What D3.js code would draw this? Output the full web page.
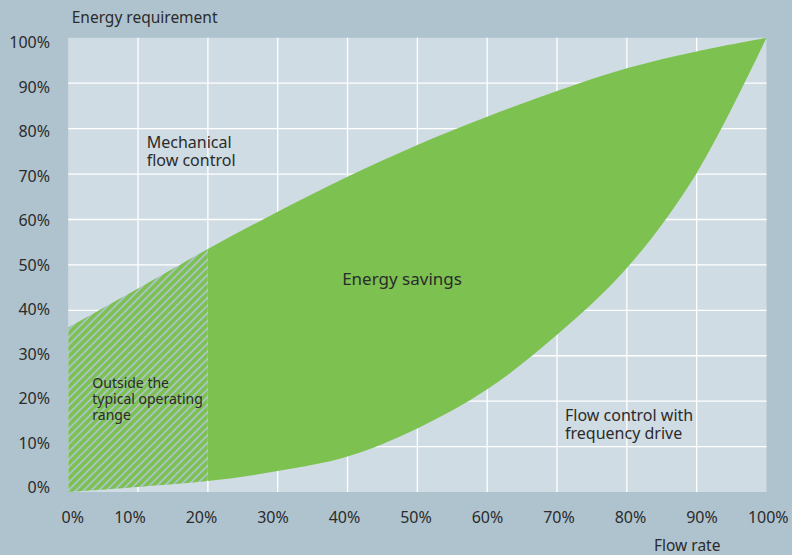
<!DOCTYPE html>
<html>
<head>
<meta charset="utf-8">
<script src="https://cdn.jsdelivr.net/npm/d3@7"></script>
<style>
  html, body { margin: 0; padding: 0; background: #afc3ce; }
  svg { display: block; font-family: "Noto Sans", sans-serif; }
  text { fill: #2b2b2b; }
</style>
</head>
<body>
<div id="chart"></div>
<script>
// flow rate (%) vs energy requirement (%)
const flowMech = [0, 10, 20, 30, 40, 50, 60, 70, 80, 90, 100];
const energyMech = [36.2, 44.8, 53.5, 61.7, 69.4, 76.4, 82.6, 88.3, 93.3, 97.0, 100];

const flowDrive = [0, 10, 20, 30, 40, 50, 60, 70, 80, 90, 100];
const energyDrive = [0, 1.1, 2.4, 4.6, 7.8, 14, 22.6, 34.6, 49.3, 70.2, 100];

const hatchEnd = 20; // outside the typical operating range
const ticks = [0, 10, 20, 30, 40, 50, 60, 70, 80, 90, 100];

const W = 792, H = 555;
const margin = { top: 37.8, right: 25.5, bottom: 63, left: 68.2 };

const svg = d3.select("#chart").append("svg")
  .attr("width", W)
  .attr("height", H);

const x = d3.scaleLinear().domain([0, 100]).range([margin.left, W - margin.right]);
const y = d3.scaleLinear().domain([0, 100]).range([H - margin.bottom, margin.top]);

// tick labels sit on their own slightly tighter spacing
const xLab = d3.scaleLinear().domain([10, 90]).range([130, 702]);
const yLab = d3.scaleLinear().domain([0, 100]).range([493.3, 48.3]);

// plot background
svg.append("rect")
  .attr("x", x(0)).attr("y", y(100))
  .attr("width", x(100) - x(0)).attr("height", y(0) - y(100))
  .attr("fill", "#d0dce3");

// grid
const inner = ticks.filter(d => d > 0 && d < 100);
svg.append("g").selectAll("line.v").data(inner).join("line")
  .attr("x1", d => x(d)).attr("x2", d => x(d))
  .attr("y1", y(100)).attr("y2", y(0))
  .attr("stroke", "#fff").attr("stroke-width", 1.3);
svg.append("g").selectAll("line.h").data(inner).join("line")
  .attr("y1", d => y(d)).attr("y2", d => y(d))
  .attr("x1", x(0)).attr("x2", x(100))
  .attr("stroke", "#fff").attr("stroke-width", 1.3);

// hatch pattern
const defs = svg.append("defs");
const pat = defs.append("pattern")
  .attr("id", "hatch")
  .attr("patternUnits", "userSpaceOnUse")
  .attr("width", 5.4).attr("height", 10)
  .attr("patternTransform", "rotate(45)");
pat.append("rect").attr("width", 5.4).attr("height", 10).attr("fill", "#7dc250");
pat.append("rect").attr("width", 1.7).attr("height", 10).attr("fill", "#adc2ce");

defs.append("clipPath").attr("id", "clipHatch")
  .append("rect")
  .attr("x", x(0)).attr("y", 0)
  .attr("width", x(hatchEnd) - x(0)).attr("height", H);
defs.append("clipPath").attr("id", "clipSolid")
  .append("rect")
  .attr("x", x(hatchEnd)).attr("y", 0)
  .attr("width", x(100) - x(hatchEnd)).attr("height", H);

// band between the two curves
const line = d3.line()
  .x(d => x(d[0])).y(d => y(d[1]))
  .curve(d3.curveCatmullRom.alpha(0.5));

const upperPts = flowMech.map((f, i) => [f, energyMech[i]]);
const lowerPts = flowDrive.map((f, i) => [f, energyDrive[i]]);

const upperPath = line(upperPts);
const lowerPath = line(lowerPts.slice().reverse());
const bandPath = upperPath + "L" + lowerPath.slice(1) + "Z";

svg.append("path")
  .attr("d", bandPath)
  .attr("fill", "#7dc250")
  .attr("clip-path", "url(#clipSolid)");
svg.append("path")
  .attr("d", bandPath)
  .attr("fill", "url(#hatch)")
  .attr("clip-path", "url(#clipHatch)");

// y tick labels
svg.append("g").selectAll("text").data(ticks).join("text")
  .attr("x", 50)
  .attr("y", d => yLab(d))
  .attr("text-anchor", "end")
  .attr("font-size", 16)
  .text(d => d + "%");

// x tick labels
svg.append("g").selectAll("text").data(ticks).join("text")
  .attr("x", d => Math.min(768.3, Math.max(72.8, xLab(d))))
  .attr("y", 523)
  .attr("text-anchor", "middle")
  .attr("font-size", 16)
  .text(d => d + "%");

// axis titles
svg.append("text")
  .attr("x", 71.7).attr("y", 23.3)
  .attr("font-size", 15.5)
  .text("Energy requirement");
svg.append("text")
  .attr("x", 654).attr("y", 551)
  .attr("font-size", 15.5)
  .text("Flow rate");

// annotations
function block(lines, tx, ty, size, lh) {
  const t = svg.append("text").attr("font-size", size);
  lines.forEach((s, i) => {
    t.append("tspan").attr("x", tx).attr("y", ty + i * lh).text(s);
  });
}
block(["Mechanical", "flow control"], 146.7, 148.3, 16, 17.5);
block(["Outside the", "typical operating", "range"], 92.3, 387.7, 14, 16);
block(["Flow control with", "frequency drive"], 565, 421, 16, 17.5);

svg.append("text")
  .attr("x", 402).attr("y", 285)
  .attr("text-anchor", "middle")
  .attr("font-size", 17)
  .text("Energy savings");
</script>
</body>
</html>
